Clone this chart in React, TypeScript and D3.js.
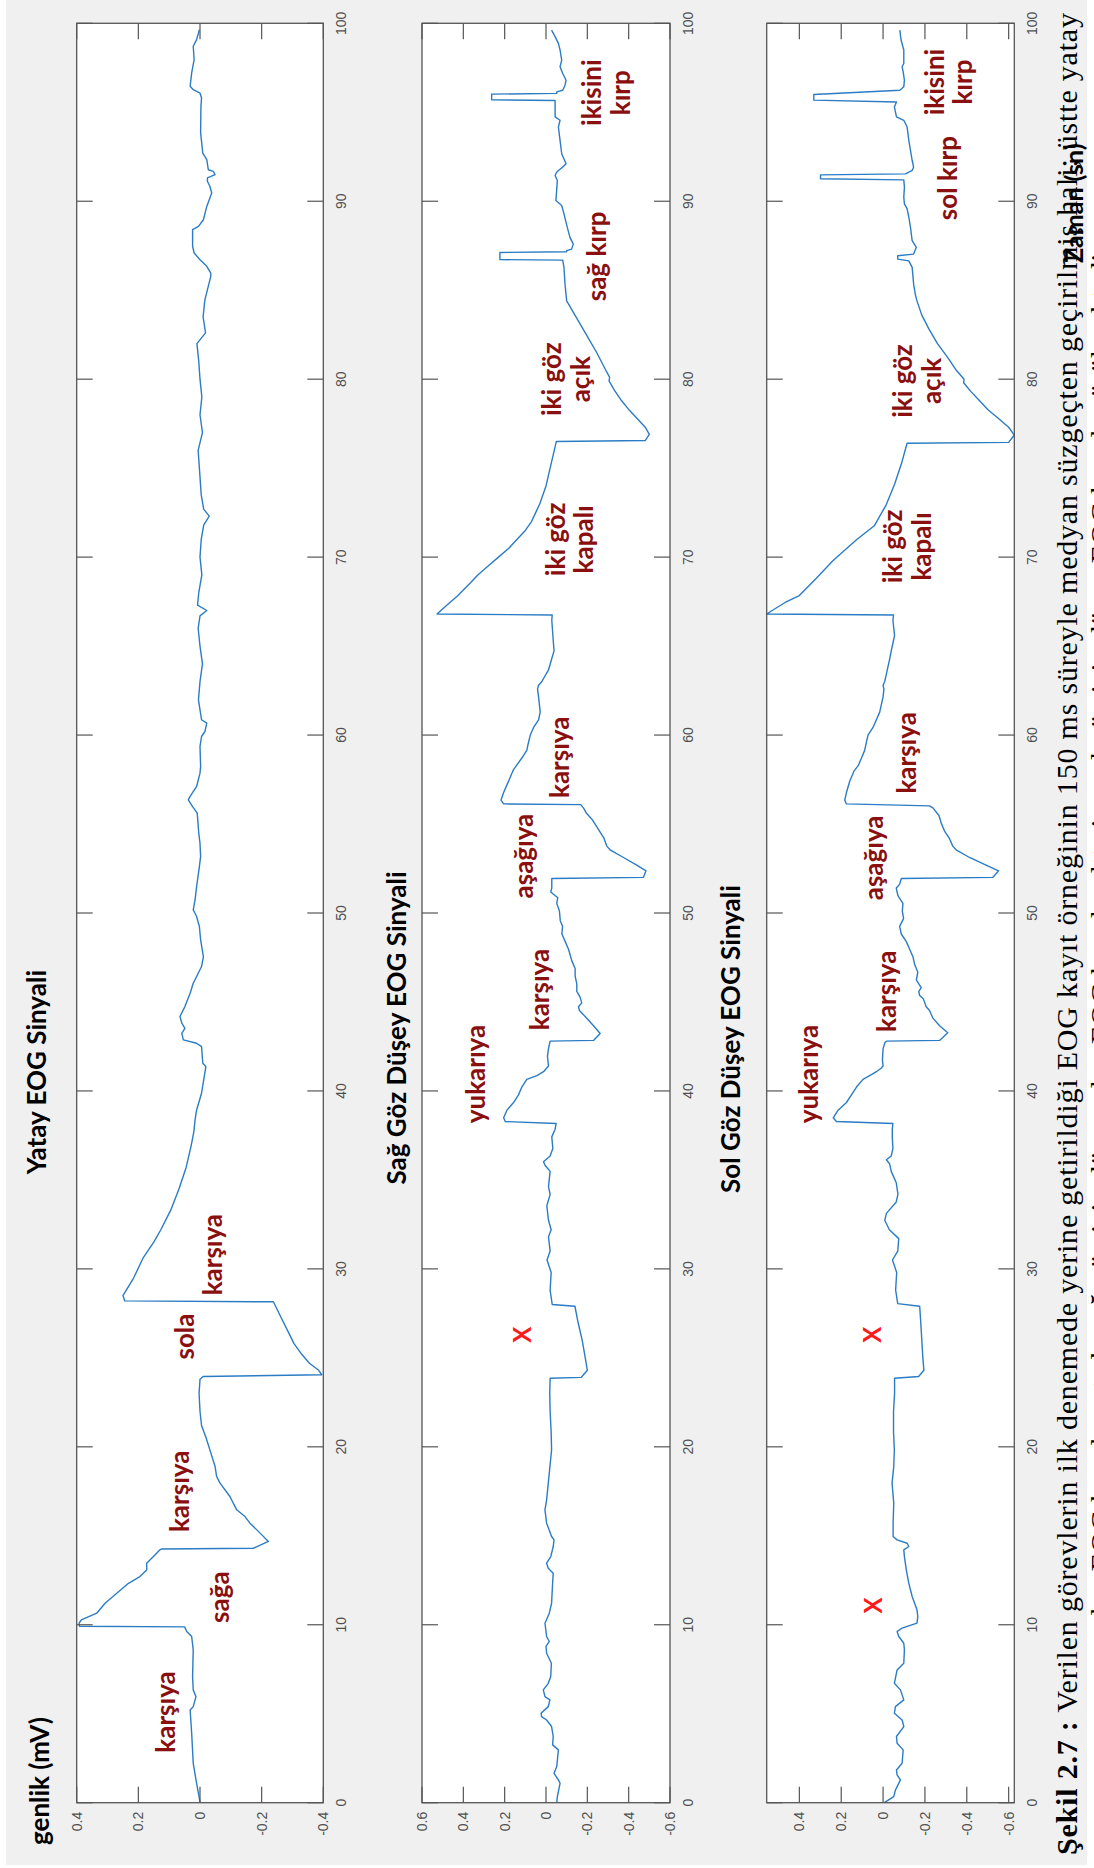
import React from "react";
import * as d3 from "d3";

const WIDTH = 1094;
const HEIGHT = 1868;

// Time axis, seconds
const timeTicks = [0, 10, 20, 30, 40, 50, 60, 70, 80, 90, 100];

// Amplitude ticks per panel (mV)
const yatayTicks = [-0.4, -0.2, 0, 0.2, 0.4];
const sagTicks = [-0.6, -0.4, -0.2, 0, 0.2, 0.4, 0.6];
const solTicks = [-0.6, -0.4, -0.2, 0, 0.2, 0.4];

// Horizontal EOG channel: [time s, amplitude mV]
const yatay: [number, number][] = [
  [0, 0], [0.34, 0.003], [1.09, 0.011], [2.22, 0.022], [3.9, 0.027], [5.21, 0.032], [5.4, 0.022],
  [5.96, 0.013], [6.34, 0.022], [7.09, 0.024], [8.59, 0.022], [9.34, 0.027], [9.62, 0.043], [9.88, 0.05],
  [9.92, 0.391], [10.1, 0.392], [10.27, 0.385], [10.65, 0.335], [11.21, 0.308], [11.77, 0.27], [12.33, 0.232],
  [12.71, 0.195], [13.08, 0.173], [13.46, 0.173], [13.83, 0.151], [14.21, 0.13], [14.26, 0.124], [14.3, -0.173],
  [14.68, -0.222], [15.15, -0.195], [15.71, -0.162], [16.08, -0.146], [16.46, -0.119], [17.21, -0.097],
  [17.96, -0.065], [18.33, -0.054], [18.89, -0.049], [19.83, -0.032], [20.5, -0.02], [21.2, -0.005], [22.0, 0.0],
  [23.0, 0.003], [23.8, 0.0], [23.95, -0.01], [24.05, -0.395], [24.3, -0.385], [24.7, -0.355], [25.2, -0.33],
  [25.8, -0.305], [26.5, -0.285], [27.2, -0.265], [27.8, -0.248], [28.15, -0.238], [28.2, 0.244], [28.5, 0.25],
  [29.5, 0.215], [30.6, 0.185], [31.5, 0.15], [32.2, 0.127], [33.3, 0.095], [34.5, 0.068], [35.7, 0.045],
  [36.9, 0.029], [37.7, 0.02], [38.37, 0.016], [38.93, 0.011], [39.87, -0.005], [41.37, -0.019], [41.56, -0.009],
  [42.49, -0.005], [42.68, 0.011], [42.87, 0.054], [43.24, 0.059], [43.52, 0.049], [43.81, 0.059], [44.18, 0.065],
  [44.74, 0.049], [45.49, 0.032], [46.05, 0.022], [46.43, 0.011], [46.99, -0.005], [47.55, -0.011], [48.49, -0.002],
  [49.24, 0.002], [49.8, 0.011], [50.18, 0.022], [50.74, 0.016], [51.49, 0.011], [52.61, 0.002], [53.17, -0.002],
  [53.92, 0.0], [54.49, 0.004], [55.61, 0.009], [55.98, 0.024], [56.36, 0.038], [56.55, 0.032], [57.11, 0.011],
  [57.86, 0.0], [58.23, -0.002], [59.36, 0.0], [59.92, -0.005], [60.2, -0.016], [60.67, -0.022], [60.86, -0.005],
  [61.98, 0.005], [63.0, 0.0], [64.0, -0.008], [65.0, 0.0], [66.0, 0.006], [66.7, 0.0], [67.0, -0.022],
  [67.3, 0.008], [68.0, 0.004], [69.0, -0.006], [70.0, 0.0], [71.0, -0.004], [71.8, -0.012], [72.3, -0.03],
  [72.7, -0.012], [73.5, -0.004], [75.0, 0.002], [76.0, 0.006], [77.0, -0.008], [78.0, 0.0], [79.0, -0.006],
  [80.0, 0.0], [81.0, 0.004], [82.0, 0.01], [82.6, -0.018], [83.5, -0.01], [84.47, -0.016], [85.78, -0.035],
  [85.96, -0.035], [86.34, -0.022], [86.71, 0.0], [87.09, 0.019], [87.47, 0.024], [88.4, 0.024], [88.59, 0.005],
  [88.96, -0.011], [89.71, -0.022], [90.46, -0.038], [90.84, -0.032], [91.12, -0.024], [91.31, -0.024],
  [91.49, -0.049], [91.68, -0.043], [91.77, -0.027], [92.34, -0.022], [92.71, -0.009], [93.84, -0.002],
  [95.33, -0.003], [95.8, -0.005], [96.08, 0.0], [96.27, 0.022], [96.46, 0.032], [97.21, 0.027], [97.96, 0.019],
  [98.71, 0.022], [99.08, 0.011], [99.64, 0.002],
];

// Right-eye vertical EOG channel
const sag: [number, number][] = [
  [0, -0.052], [0.34, -0.055], [1.09, -0.068], [1.28, -0.06], [1.65, -0.039], [2.03, -0.052], [2.97, -0.06],
  [3.25, -0.032], [3.72, -0.035], [4.28, -0.027], [4.65, -0.003], [4.84, 0.021], [5.03, 0.024], [5.4, -0.011],
  [5.78, -0.019], [5.96, 0.005], [6.34, 0.013], [6.71, -0.011], [7.09, -0.023], [7.84, -0.026], [8.4, -0.003],
  [8.78, 0.0], [9.06, -0.016], [9.34, -0.003], [10.09, 0.005], [10.65, -0.016], [11.21, -0.027], [12.33, -0.032],
  [12.9, -0.035], [13.18, -0.011], [13.46, -0.003], [13.83, -0.023], [14.4, -0.035], [14.77, -0.039],
  [14.96, -0.027], [15.71, -0.003], [16.46, 0.005], [17.02, -0.003], [17.96, -0.011], [18.89, -0.019],
  [19.83, -0.027], [20.8, -0.025], [22.0, -0.02], [23.0, -0.018], [23.85, -0.02], [23.9, -0.17], [24.3, -0.2],
  [25.0, -0.19], [26.0, -0.175], [27.0, -0.155], [27.9, -0.14], [28.0, -0.03], [28.8, -0.02], [29.8, -0.025],
  [30.5, -0.005], [31.0, -0.02], [31.8, -0.012], [32.2, -0.025], [32.73, -0.012], [33.55, -0.004], [34.19, -0.02],
  [34.62, -0.012], [35.48, -0.02], [35.81, 0.004], [36.02, 0.012], [36.34, -0.02], [36.77, -0.033], [37.42, -0.028],
  [37.85, -0.044], [38.17, -0.049], [38.28, 0.197], [38.49, 0.205], [38.92, 0.189], [39.35, 0.157], [39.78, 0.133],
  [40.22, 0.117], [40.65, 0.093], [40.86, 0.044], [41.08, 0.012], [41.4, -0.012], [41.94, -0.007], [42.37, -0.012],
  [42.8, -0.02], [42.84, -0.23], [43.23, -0.262], [43.66, -0.23], [44.09, -0.197], [44.52, -0.162], [44.73, -0.157],
  [44.95, -0.173], [45.27, -0.165], [45.59, -0.149], [46.02, -0.149], [46.45, -0.141], [46.88, -0.141],
  [47.31, -0.125], [47.96, -0.109], [48.39, -0.093], [48.82, -0.077], [49.25, -0.08], [49.57, -0.069],
  [50.11, -0.065], [50.54, -0.052], [50.86, -0.057], [51.18, -0.023], [51.4, -0.028], [51.94, -0.028],
  [52.0, -0.471], [52.37, -0.484], [52.69, -0.439], [53.12, -0.375], [53.55, -0.31], [53.76, -0.294],
  [54.19, -0.281], [54.84, -0.246], [55.27, -0.222], [55.59, -0.197], [55.91, -0.181], [56.09, -0.168],
  [56.13, 0.205], [56.34, 0.218], [56.77, 0.205], [57.2, 0.189], [57.63, 0.173], [57.85, 0.165], [58.06, 0.157],
  [58.71, 0.117], [59.14, 0.093], [59.57, 0.085], [60.0, 0.076], [60.43, 0.06], [60.86, 0.036], [61.29, 0.028],
  [62.15, 0.036], [62.58, 0.041], [62.8, 0.036], [63.01, 0.02], [63.66, -0.012], [64.3, -0.028], [64.73, -0.039],
  [65.16, -0.036], [66.45, -0.028], [66.75, -0.03], [66.8, 0.527], [67.2, 0.49], [67.8, 0.43], [68.5, 0.37],
  [69.0, 0.33], [69.5, 0.28], [70.0, 0.23], [70.5, 0.18], [71.0, 0.14], [71.5, 0.1], [72.0, 0.07], [72.5, 0.05],
  [73.0, 0.03], [74.0, 0.0], [75.0, -0.02], [76.0, -0.04], [76.5, -0.05], [76.55, -0.48], [76.9, -0.5],
  [77.3, -0.48], [77.8, -0.44], [78.3, -0.4], [78.8, -0.365], [79.4, -0.33], [79.9, -0.305], [80.1, -0.308],
  [80.6, -0.285], [81.5, -0.245], [82.5, -0.195], [83.5, -0.145], [84.4, -0.1], [85.34, -0.092], [86.28, -0.087],
  [86.69, -0.081], [86.72, 0.223], [87.12, 0.223], [87.16, -0.1], [87.22, -0.1], [87.31, -0.124], [87.59, -0.132],
  [87.97, -0.116], [88.53, -0.103], [89.29, -0.087], [89.76, -0.076], [90.04, -0.048], [91.17, -0.055],
  [91.45, -0.044], [91.64, -0.052], [91.92, -0.081], [92.11, -0.097], [92.67, -0.076], [93.42, -0.068],
  [94.17, -0.06], [94.55, -0.068], [94.74, -0.044], [95.49, -0.044], [95.66, -0.044], [95.7, 0.263],
  [96.02, 0.263], [96.06, -0.052], [96.15, -0.052], [96.24, -0.081], [96.52, -0.092], [96.8, -0.097],
  [97.18, -0.081], [97.56, -0.068], [97.93, -0.076], [98.5, -0.068], [98.87, -0.06], [99.25, -0.044],
  [99.62, -0.027],
];

// Left-eye vertical EOG channel
const sol: [number, number][] = [
  [0, -0.006], [0.34, -0.051], [0.71, -0.059], [1.28, -0.083], [1.56, -0.067], [1.84, -0.064], [2.22, -0.091],
  [2.97, -0.096], [3.34, -0.067], [3.72, -0.064], [4.28, -0.099], [4.65, -0.091], [5.03, -0.054], [5.4, -0.059],
  [5.78, -0.099], [6.34, -0.083], [6.71, -0.054], [7.46, -0.067], [7.84, -0.099], [8.59, -0.102], [8.96, -0.099],
  [9.34, -0.075], [9.62, -0.067], [9.81, -0.091], [10.09, -0.162], [10.46, -0.166], [10.84, -0.162],
  [11.59, -0.139], [12.33, -0.123], [13.08, -0.111], [13.83, -0.102], [14.21, -0.099], [14.4, -0.123],
  [14.58, -0.115], [14.77, -0.067], [14.96, -0.048], [15.71, -0.048], [16.83, -0.051], [17.96, -0.043],
  [18.89, -0.051], [19.83, -0.054], [20.8, -0.05], [22.0, -0.05], [23.0, -0.055], [23.85, -0.055], [23.95, -0.17],
  [24.3, -0.195], [25.0, -0.19], [26.0, -0.185], [27.0, -0.18], [27.9, -0.175], [28.05, -0.07], [28.8, -0.06],
  [29.8, -0.065], [30.5, -0.045], [31.0, -0.07], [31.7, -0.075], [32.2, -0.03], [32.73, -0.008], [33.12, -0.016],
  [33.76, -0.063], [34.19, -0.071], [34.84, -0.063], [35.27, -0.047], [35.48, -0.039], [35.91, -0.031],
  [36.13, -0.016], [36.34, -0.039], [36.77, -0.047], [37.42, -0.044], [37.85, -0.044], [38.17, -0.047],
  [38.28, 0.223], [38.49, 0.238], [38.92, 0.215], [39.35, 0.175], [39.78, 0.151], [40.22, 0.127], [40.65, 0.096],
  [40.86, 0.064], [41.08, 0.032], [41.29, 0.008], [41.4, 0.0], [41.72, 0.003], [42.37, 0.0], [42.69, -0.008],
  [42.8, -0.016], [42.84, -0.27], [43.27, -0.309], [43.66, -0.27], [44.09, -0.238], [44.52, -0.222],
  [44.73, -0.206], [45.16, -0.193], [45.38, -0.174], [45.59, -0.171], [45.81, -0.182], [46.24, -0.159],
  [46.67, -0.166], [47.1, -0.151], [47.53, -0.143], [47.96, -0.127], [48.39, -0.111], [48.82, -0.087],
  [49.25, -0.079], [49.68, -0.098], [50.11, -0.092], [50.54, -0.095], [50.97, -0.071], [51.4, -0.063],
  [51.61, -0.079], [51.94, -0.087], [52.0, -0.524], [52.37, -0.552], [52.69, -0.492], [53.12, -0.413],
  [53.55, -0.349], [53.76, -0.333], [54.19, -0.317], [54.62, -0.293], [55.05, -0.278], [55.48, -0.267],
  [55.91, -0.238], [56.02, -0.222], [56.13, 0.175], [56.34, 0.183], [56.77, 0.175], [57.42, 0.159],
  [57.85, 0.143], [57.96, 0.14], [58.28, 0.119], [58.71, 0.103], [59.14, 0.088], [59.57, 0.08], [60.0, 0.072],
  [60.43, 0.048], [60.86, 0.032], [61.29, 0.016], [61.72, 0.008], [62.15, 0.0], [62.58, -0.004], [62.8, 0.0],
  [63.01, -0.008], [63.44, -0.016], [64.3, -0.032], [64.73, -0.039], [65.16, -0.047], [65.59, -0.055],
  [66.45, -0.047], [66.75, -0.05], [66.8, 0.556], [67.0, 0.53], [67.45, 0.468], [67.84, 0.4], [68.8, 0.32],
  [69.8, 0.24], [70.98, 0.127], [71.76, 0.042], [72.94, -0.015], [74.1, -0.055], [75.3, -0.089], [76.2, -0.11],
  [76.4, -0.115], [76.45, -0.6], [76.86, -0.627], [77.3, -0.6], [77.8, -0.55], [78.3, -0.5], [78.8, -0.46],
  [79.3, -0.42], [79.8, -0.385], [80.0, -0.387], [80.5, -0.35], [81.2, -0.31], [82.0, -0.26], [82.8, -0.22],
  [83.6, -0.185], [84.4, -0.162], [84.77, -0.154], [85.34, -0.146], [86.28, -0.139], [86.65, -0.123],
  [86.75, -0.07], [86.94, -0.07], [87.03, -0.146], [87.41, -0.159], [87.78, -0.139], [88.53, -0.131],
  [89.1, -0.123], [89.57, -0.115], [89.85, -0.102], [90.23, -0.099], [90.79, -0.102], [91.2, -0.099],
  [91.26, 0.299], [91.48, 0.299], [91.54, -0.107], [91.73, -0.139], [91.92, -0.146], [92.29, -0.139],
  [93.42, -0.123], [94.17, -0.115], [94.55, -0.099], [94.74, -0.064], [95.3, -0.054], [95.58, -0.064],
  [95.68, 0.331], [96.0, 0.331], [96.24, -0.08], [96.43, -0.099], [96.8, -0.102], [97.27, -0.096],
  [97.56, -0.091], [97.74, -0.099], [98.5, -0.099], [99.06, -0.086], [99.62, -0.08],
];

// Event annotations, anchored at (time, amplitude)
type Note = { lines: string[]; t: number; v: number };
const yatayNotes: Note[] = [
  { lines: ["karşıya"], t: 5.1, v: 0.11 },
  { lines: ["sağa"], t: 11.55, v: -0.065 },
  { lines: ["karşıya"], t: 17.5, v: 0.065 },
  { lines: ["sola"], t: 26.2, v: 0.049 },
  { lines: ["karşıya"], t: 30.8, v: -0.042 },
];
const sagNotes: Note[] = [
  { lines: ["yukarıya"], t: 40.95, v: 0.339 },
  { lines: ["karşıya"], t: 45.7, v: 0.029 },
  { lines: ["aşağıya"], t: 53.2, v: 0.107 },
  { lines: ["karşıya"], t: 58.75, v: -0.068 },
  { lines: ["iki göz", "kapalı"], t: 71.0, v: -0.116 },
  { lines: ["iki göz", "açık"], t: 80.0, v: -0.1 },
  { lines: ["sağ kırp"], t: 86.9, v: -0.247 },
  { lines: ["ikisini", "kırp"], t: 96.1, v: -0.293 },
];
const solNotes: Note[] = [
  { lines: ["yukarıya"], t: 40.95, v: 0.354 },
  { lines: ["karşıya"], t: 45.6, v: -0.016 },
  { lines: ["aşağıya"], t: 53.1, v: 0.046 },
  { lines: ["karşıya"], t: 59.0, v: -0.114 },
  { lines: ["iki göz", "kapalı"], t: 70.6, v: -0.117 },
  { lines: ["iki göz", "açık"], t: 79.9, v: -0.165 },
  { lines: ["sol kırp"], t: 91.3, v: -0.31 },
  { lines: ["ikisini", "kırp"], t: 96.7, v: -0.315 },
];
// Red crosses marking unintended deflections
const sagCrosses: [number, number][] = [[26.3, 0.115]];
const solCrosses: [number, number][] = [[11.08, 0.045], [26.3, 0.053]];

const captionLead = "Şekil 2.7 :";
const captionLine1 =
  " Verilen görevlerin ilk denemede yerine getirildiği EOG kayıt örneğinin 150 ms süreyle medyan süzgeçten geçirilmiş hali; üstte yatay";
const captionLine2 =
  "olan EOG kanalı, ortada sağ göz için düşey olan EOG kanalı, altta ise sol göz için düşey EOG kanalı görülmektedir.";

// Landscape frame (drawn rotated by -90°): x = time direction, y = amplitude direction
const FRAME_W = HEIGHT;
const plotX0 = 65.3;
const plotX1 = 1844.7;

type Panel = {
  title: string;
  titleX: number;
  titleAnchor: "start" | "middle" | "end";
  titleY: number;
  top: number;
  bottom: number;
  domain: [number, number];
  ticks: number[];
  data: [number, number][];
  notes: Note[];
  crosses: [number, number][];
};

const panels: Panel[] = [
  {
    title: "Yatay EOG Sinyali", titleX: 898, titleAnchor: "end", titleY: 46,
    top: 76.7, bottom: 323.3, domain: [-0.4, 0.4], ticks: yatayTicks,
    data: yatay, notes: yatayNotes, crosses: [],
  },
  {
    title: "Sağ Göz Düşey EOG Sinyali", titleX: 840, titleAnchor: "middle", titleY: 406,
    top: 422, bottom: 670, domain: [-0.6, 0.6], ticks: sagTicks,
    data: sag, notes: sagNotes, crosses: sagCrosses,
  },
  {
    title: "Sol Göz Düşey EOG Sinyali", titleX: 829, titleAnchor: "middle", titleY: 740,
    top: 766.7, bottom: 1014.3, domain: [-0.627, 0.556], ticks: solTicks,
    data: sol, notes: solNotes, crosses: solCrosses,
  },
];

const LABEL_FONT = "Lato, 'Open Sans', sans-serif";
const TICK_FONT = "'Liberation Sans', Arial, sans-serif";
const SERIF = "'Liberation Serif', 'Times New Roman', serif";
const AXIS_COLOR = "#555555";
const TICK_LEN = 16;

const xScale = d3.scaleLinear().domain([0, 100]).range([plotX0, plotX1]);

function PanelView({ p }: { p: Panel }) {
  const y = d3.scaleLinear().domain(p.domain).range([p.bottom, p.top]);
  const line = d3
    .line<[number, number]>()
    .x((d) => xScale(d[0]))
    .y((d) => y(d[1]));
  const fmt = (v: number) => (Math.abs(v) < 1e-9 ? "0" : String(+v.toFixed(1)));
  return (
    <g>
      <rect x={plotX0} y={p.top} width={plotX1 - plotX0} height={p.bottom - p.top} fill="#ffffff" />
      <path d={line(p.data) || ""} fill="none" stroke="#2b7cc4" strokeWidth={1.4} strokeLinejoin="round" />
      {/* time ticks, both edges */}
      {timeTicks.map((t) => (
        <g key={"t" + t}>
          <line x1={xScale(t)} x2={xScale(t)} y1={p.bottom} y2={p.bottom - TICK_LEN} stroke={AXIS_COLOR} strokeWidth={1.2} />
          <line x1={xScale(t)} x2={xScale(t)} y1={p.top} y2={p.top + TICK_LEN} stroke={AXIS_COLOR} strokeWidth={1.2} />
          <text x={xScale(t)} y={p.bottom + 23} textAnchor="middle" fontFamily={TICK_FONT} fontSize={14} fill="#505050">
            {t}
          </text>
        </g>
      ))}
      {/* amplitude ticks, both edges */}
      {p.ticks.map((v) => (
        <g key={"v" + v}>
          <line x1={plotX0} x2={plotX0 + TICK_LEN} y1={y(v)} y2={y(v)} stroke={AXIS_COLOR} strokeWidth={1.2} />
          <line x1={plotX1} x2={plotX1 - TICK_LEN} y1={y(v)} y2={y(v)} stroke={AXIS_COLOR} strokeWidth={1.2} />
          <text x={plotX0 - 9} y={y(v)} dy="0.35em" textAnchor="end" fontFamily={TICK_FONT} fontSize={14} fill="#505050">
            {fmt(v)}
          </text>
        </g>
      ))}
      <rect x={plotX0} y={p.top} width={plotX1 - plotX0} height={p.bottom - p.top} fill="none" stroke={AXIS_COLOR} strokeWidth={1.3} />
      <text x={p.titleX} y={p.titleY} textAnchor={p.titleAnchor} fontFamily={LABEL_FONT} fontWeight={700} fontSize={26} fill="#000">
        {p.title}
      </text>
      {p.notes.map((n, i) => (
        <text key={"n" + i} x={xScale(n.t)} y={y(n.v)} textAnchor="middle" fontFamily={LABEL_FONT} fontWeight={700} fontSize={26} fill="#8a1010">
          {n.lines.map((s, j) => (
            <tspan key={j} x={xScale(n.t)} dy={j === 0 ? `${0.35 - (n.lines.length - 1) * 0.55}em` : "1.1em"}>
              {s}
            </tspan>
          ))}
        </text>
      ))}
      {p.crosses.map((c, i) => (
        <text key={"c" + i} x={xScale(c[0])} y={y(c[1])} dy="0.36em" textAnchor="middle" fontFamily={LABEL_FONT} fontWeight={700} fontSize={24} fill="#ff1a1a">
          X
        </text>
      ))}
    </g>
  );
}

export default function App() {
  return (
    <svg width={WIDTH} height={HEIGHT} viewBox={`0 0 ${WIDTH} ${HEIGHT}`} style={{ display: "block", position: "absolute", left: 0, top: 0 }}>
      <rect x={0} y={0} width={WIDTH} height={HEIGHT} fill="#ffffff" />
      <rect x={6} y={0} width={1081} height={1865} fill="#f0f0f0" />
      <g transform={`translate(0,${FRAME_W}) rotate(-90)`}>
        <text x={23} y={49} fontFamily={LABEL_FONT} fontWeight={700} fontSize={26} fill="#000">
          genlik (mV)
        </text>
        {panels.map((p, i) => (
          <PanelView key={i} p={p} />
        ))}
        <text x={1605} y={1083} fontFamily={LABEL_FONT} fontWeight={700} fontSize={25} fill="#000">
          Zaman (sn)
        </text>
        <text x={13} y={1077} fontFamily={SERIF} fontSize={30} fill="#000" textLength={1842} lengthAdjust="spacing">
          <tspan fontWeight={700}>{captionLead}</tspan>
          <tspan>{captionLine1}</tspan>
        </text>
        <text x={FRAME_W / 2} y={1111} textAnchor="middle" fontFamily={SERIF} fontSize={30} fill="#000">
          {captionLine2}
        </text>
      </g>
    </svg>
  );
}
